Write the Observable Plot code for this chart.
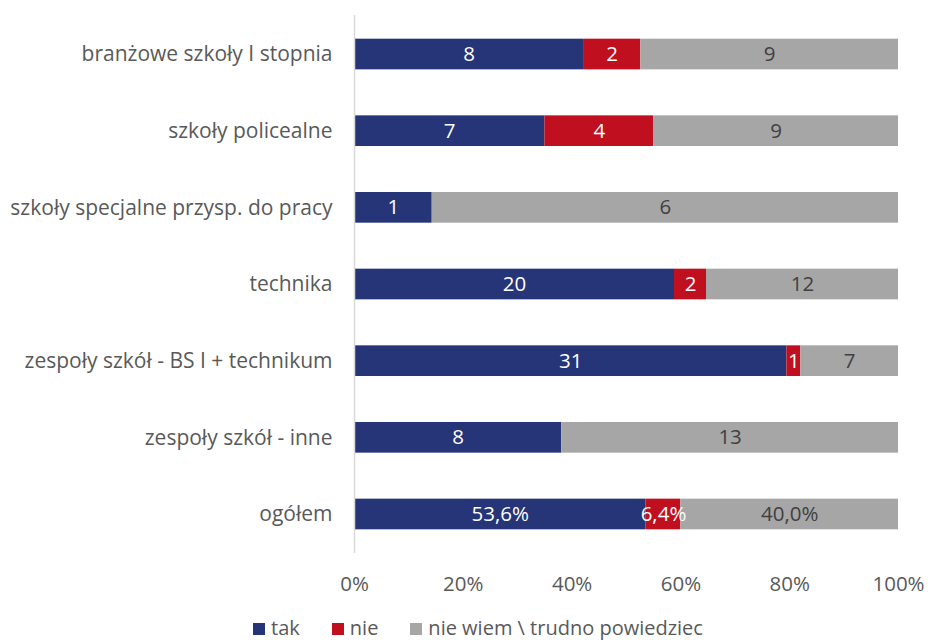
<!DOCTYPE html>
<html><head><meta charset="utf-8">
<script src="https://cdn.jsdelivr.net/npm/d3@7"></script>
<script src="https://cdn.jsdelivr.net/npm/@observablehq/plot@0.6"></script>
<style>
body{margin:0;background:#fff;font-family:"Open Sans","Liberation Sans",sans-serif;}
#legend{display:flex;justify-content:center;gap:32px;font-size:20px;color:#595959;padding-left:28px;margin-top:18px;line-height:24px;}
#legend span.sw{display:inline-block;width:12px;height:12px;margin-right:6px;vertical-align:0px;}
</style></head><body>
<div id="chart"></div>
<div id="legend"></div>
<script>
const categories = ["branżowe szkoły I stopnia","szkoły policealne","szkoły specjalne przysp. do pracy","technika","zespoły szkół - BS I + technikum","zespoły szkół - inne","ogółem"];
const seriesNames = ["tak","nie","nie wiem \\ trudno powiedziec"];
const tak = [8,7,1,20,31,8,53.6];
const nie = [2,4,0,2,1,0,6.4];
const nieWiem = [9,9,6,12,7,13,40.0];
const colors = ["#263478","#C00F1E","#A6A6A6"];
const textColors = ["#ffffff","#ffffff","#404040"];
const xTicks = [0,0.2,0.4,0.6,0.8,1];

const rows = [];
categories.forEach((c,i)=>{
  [tak,nie,nieWiem].forEach((arr,j)=>{
    const v = arr[i];
    const isPct = c === "ogółem";
    rows.push({category:c, series:seriesNames[j], value:v,
      label: v === 0 ? "" : (isPct ? v.toFixed(1).replace(".", ",") + "%" : String(v))});
  });
});

const chart = Plot.plot({
  width: 928, height: 598,
  marginLeft: 354, marginRight: 30, marginTop: 15, marginBottom: 45,
  style: {fontFamily: "'Open Sans', 'Liberation Sans', sans-serif", fontSize: "20.5px", color: "#595959"},
  x: {domain:[0,1], ticks: xTicks, tickFormat: d => Math.round(d*100) + "%", tickSize: 0, tickPadding: 23, label: null},
  y: {domain: categories, paddingInner: 0.6, paddingOuter: 0.309, round: false, label: null, tickSize: 0, tickPadding: 22, fontSize: 21},
  color: {domain: seriesNames, range: colors},
  marks: [
    Plot.barX(rows, Plot.stackX({x:"value", y:"category", fill:"series", order: seriesNames, offset:"normalize"})),
    Plot.textX(rows, Plot.stackX({x:"value", y:"category", z:"series", text:"label", order: seriesNames, offset:"normalize",
      fill: d => textColors[seriesNames.indexOf(d.series)], fontSize: 20.5})),
    Plot.ruleX([0], {stroke:"#D9D9D9", strokeWidth: 1.5}),
    Plot.axisY({tickSize: 0, tickPadding: 22, fontSize: 21, label: null})
  ]
});
document.getElementById("chart").appendChild(chart);

const leg = document.getElementById("legend");
seriesNames.forEach((s,i)=>{
  const d = document.createElement("div");
  d.innerHTML = `<span class="sw" style="background:${colors[i]}"></span>${s}`;
  leg.appendChild(d);
});
</script>
</body></html>
